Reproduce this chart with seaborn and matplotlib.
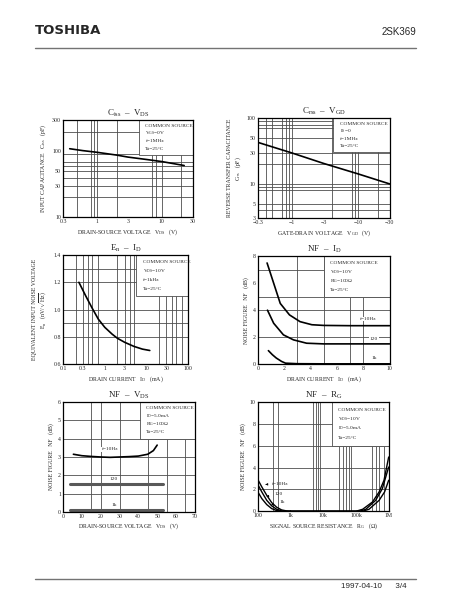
import numpy as np
import pandas as pd
import matplotlib
matplotlib.use('Agg')
import matplotlib.pyplot as plt
import seaborn as sns
from matplotlib.patches import Rectangle
from matplotlib.lines import Line2D

# ---- data ----
# Ciss - VDS
vds_ciss = [0.38, 0.6, 1.0, 2.0, 3.0, 6.0, 10.0, 22.0]
ciss = [110, 103, 97, 88, 82, 75, 70, 61]
# Crss - VGD (magnitudes, axis labelled negative)
vgd_abs = [0.3, 1.0, 3.0, 10.0, 30.0]
crss = [43, 29.5, 20.5, 14.2, 10]
# En - ID
id_en = [0.24, 0.35, 0.5, 0.7, 1.0, 1.5, 2.0, 3.0, 5.0, 8.0, 12.0]
en = [1.20, 1.10, 1.01, 0.93, 0.87, 0.82, 0.79, 0.76, 0.73, 0.71, 0.70]
# NF - ID
id_nf = [0.7, 1.0, 1.2, 1.7, 2.4, 3.2, 4.1, 5.0, 7.0, 10.0]
nf_id_10 = [7.5, 6.6, 6.0, 4.5, 3.65, 3.15, 2.92, 2.87, 2.85, 2.85]
id_nf_120 = [0.73, 1.2, 1.94, 2.7, 3.7, 5.0, 7.0, 10.0]
nf_id_120 = [4.0, 3.03, 2.17, 1.8, 1.55, 1.5, 1.5, 1.5]
id_nf_1k = [0.8, 1.1, 1.4, 1.8, 2.1, 3.0, 5.0, 10.0]
nf_id_1k = [1.0, 0.7, 0.45, 0.2, 0.07, 0.03, 0.02, 0.02]
# NF - VDS
vds_nf = [5.5, 10, 15, 20, 25, 30, 35, 40, 45, 48, 50]
nf_vds_10 = [3.15, 3.07, 3.03, 3.0, 2.98, 3.0, 3.02, 3.05, 3.15, 3.35, 3.65]
vds_flat = [3.5, 53]
nf_vds_120 = [1.5, 1.5]
nf_vds_1k = [0.1, 0.1]
# NF - RG
rg_low = [100, 132, 187, 265, 376, 533, 756, 1000]
nf_rg_10_low = [2.9, 2.23, 1.46, 0.79, 0.37, 0.12, 0.03, 0.0]
nf_rg_120_low = [2.44, 1.77, 1.0, 0.49, 0.18, 0.03, 0.0, 0.0]
nf_rg_1k_low = [1.77, 1.16, 0.61, 0.24, 0.06, 0.0, 0.0, 0.0]
rg_a = [1000, 100000, 160000, 320000, 510000, 720000, 1000000]
nf_rg_a = [0.0, 0.0, 0.18, 0.85, 1.77, 2.84, 4.97]
rg_b = [1000, 130000, 200000, 400000, 640000, 1000000]
nf_rg_b = [0.0, 0.0, 0.18, 1.0, 2.07, 4.05]
rg_c = [1000, 160000, 250000, 510000, 750000, 1000000]
nf_rg_c = [0.0, 0.0, 0.18, 1.0, 1.77, 2.84]

# ---- style ----
sns.set_style('white')
plt.rcParams['font.family'] = ['Liberation Serif', 'DejaVu Serif']
plt.rcParams['mathtext.fontset'] = 'custom'
plt.rcParams['mathtext.rm'] = 'Liberation Serif'
plt.rcParams['mathtext.it'] = 'Liberation Serif'
plt.rcParams['axes.linewidth'] = 0.9
plt.rcParams['axes.edgecolor'] = 'black'

TS = 4.2   # small text
BS = 3.9   # condition box text
GC = '0.3'
LW = 1.2

fig = plt.figure(figsize=(4.74, 6.13), dpi=100)


def grid_lines(ax, xs, ys):
    for v in xs:
        ax.axvline(v, color=GC, lw=0.6, zorder=1)
    for v in ys:
        ax.axhline(v, color=GC, lw=0.6, zorder=1)


def cond_box(ax, rect, lines):
    ax.add_patch(Rectangle((rect[0], rect[1]), rect[2], rect[3], transform=ax.transAxes,
                           facecolor='white', edgecolor=GC, lw=0.6, zorder=2))
    step = rect[3] / (len(lines) + 0.6)
    for i, t in enumerate(lines):
        ax.text(rect[0] + 0.05, rect[1] + rect[3] - step * (i + 0.8), t,
                transform=ax.transAxes, fontsize=BS, va='center', ha='left', zorder=3)


def finish(ax, title, xlabel, ylabel):
    ax.set_title(title, fontsize=6.5, pad=3)
    ax.set_xlabel(xlabel, fontsize=TS, labelpad=2)
    ax.set_ylabel(ylabel, fontsize=TS, labelpad=3)
    ax.tick_params(which='both', length=0, labelsize=TS, pad=1.5)
    for s in ax.spines.values():
        s.set_zorder(5)


# 1. Ciss - VDS
ax1 = fig.add_axes([0.133, 0.646, 0.274, 0.158])
ax1.set_xscale('log'); ax1.set_yscale('log')
ax1.set_xlim(0.3, 30); ax1.set_ylim(10, 300)
grid_lines(ax1, [0.5, 0.8, 0.9, 1, 2, 7, 8, 10, 20], [20, 30, 40, 50, 60, 70, 90, 200])
cond_box(ax1, [0.584, 0.645, 0.416, 0.355],
         ['COMMON SOURCE', r'V$_{GS}$=0V', 'f=1MHz', 'Ta=25°C'])
sns.lineplot(x=vds_ciss, y=ciss, ax=ax1, color='black', lw=LW, zorder=4)
ax1.set_xticks([0.3, 1, 3, 10, 30], ['0.3', '1', '3', '10', '30'])
ax1.set_yticks([10, 30, 50, 100, 300], ['10', '30', '50', '100', '300'])
ax1.minorticks_off()
finish(ax1, r'C$_{iss}$  –  V$_{DS}$', r'DRAIN-SOURCE VOLTAGE   V$_{DS}$   (V)',
       r'INPUT CAPACITANCE   C$_{iss}$   (pF)')

# 2. Crss - VGD
ax2 = fig.add_axes([0.544, 0.644, 0.278, 0.163])
ax2.set_xscale('log'); ax2.set_yscale('log')
ax2.set_xlim(0.3, 30); ax2.set_ylim(3, 100)
grid_lines(ax2, [0.4, 0.5, 0.7, 0.8, 0.9, 1, 4, 8, 9, 10, 20],
           [4, 5, 8, 9, 10, 20, 30, 50, 70, 80, 90])
cond_box(ax2, [0.572, 0.659, 0.428, 0.341],
         ['COMMON SOURCE', r'I$_{S}$=0', 'f=1MHz', 'Ta=25°C'])
sns.lineplot(x=vgd_abs, y=crss, ax=ax2, color='black', lw=LW, zorder=4)
ax2.set_xticks([0.3, 1, 3, 10, 30], ['−0.3', '−1', '−3', '−10', '−30'])
ax2.set_yticks([3, 5, 10, 30, 50, 100], ['3', '5', '10', '30', '50', '100'])
ax2.minorticks_off()
finish(ax2, r'C$_{rss}$  –  V$_{GD}$', r'GATE-DRAIN VOLTAGE   V$_{GD}$   (V)',
       'REVERSE TRANSFER CAPACITANCE\n' + r'C$_{rss}$   (pF)')

# 3. En - ID
ax3 = fig.add_axes([0.133, 0.406, 0.264, 0.178])
ax3.set_xscale('log')
ax3.set_xlim(0.1, 100); ax3.set_ylim(0.6, 1.4)
grid_lines(ax3, [0.2, 0.3, 0.4, 0.5, 0.7, 2, 3, 4, 5, 20, 30, 40, 50, 70],
           [0.8, 0.9, 1.0, 1.2, 1.3])
cond_box(ax3, [0.587, 0.624, 0.413, 0.376],
         ['COMMON SOURCE', r'V$_{DS}$=10V', 'f=1kHz', 'Ta=25°C'])
sns.lineplot(x=id_en, y=en, ax=ax3, color='black', lw=LW, zorder=4)
ax3.set_xticks([0.1, 0.3, 1, 3, 10, 30, 100], ['0.1', '0.3', '1', '3', '10', '30', '100'])
ax3.set_yticks([0.6, 0.8, 1.0, 1.2, 1.4], ['0.6', '0.8', '1.0', '1.2', '1.4'])
ax3.minorticks_off()
finish(ax3, r'E$_{n}$  –  I$_{D}$', r'DRAIN CURRENT   I$_{D}$   (mA)',
       'EQUIVALENT INPUT NOISE VOLTAGE\n' + r'E$_{n}$   (nV/$\sqrt{\rm Hz}$)')

# 4. NF - ID
ax4 = fig.add_axes([0.544, 0.406, 0.278, 0.176])
ax4.set_xlim(0, 10); ax4.set_ylim(0, 8)
grid_lines(ax4, [3, 5, 7, 8], [2, 4, 5, 7])
cond_box(ax4, [0.5, 0.625, 0.5, 0.375],
         ['COMMON SOURCE', r'V$_{DS}$=10V', r'R$_{G}$=100Ω', 'Ta=25°C'])
sns.lineplot(x=id_nf, y=nf_id_10, ax=ax4, color='black', lw=LW, zorder=4)
sns.lineplot(x=id_nf_120, y=nf_id_120, ax=ax4, color='black', lw=LW, zorder=4)
sns.lineplot(x=id_nf_1k, y=nf_id_1k, ax=ax4, color='black', lw=LW, zorder=4)
ax4.text(7.7, 3.35, 'f=10Hz', fontsize=BS, va='center', zorder=4,
         bbox=dict(facecolor='white', edgecolor='none', pad=0.3))
ax4.text(8.5, 1.85, '120', fontsize=BS, va='center', zorder=4,
         bbox=dict(facecolor='white', edgecolor='none', pad=0.3))
ax4.text(8.6, 0.45, '1k', fontsize=BS, va='center', zorder=4)
ax4.set_xticks([0, 2, 4, 6, 8, 10])
ax4.set_yticks([0, 2, 4, 6, 8])
finish(ax4, r'NF  –  I$_{D}$', r'DRAIN CURRENT   I$_{D}$   (mA)',
       r'NOISE FIGURE   NF   (dB)')

# 5. NF - VDS
ax5 = fig.add_axes([0.133, 0.165, 0.278, 0.179])
ax5.set_xlim(0, 70); ax5.set_ylim(0, 6)
grid_lines(ax5, [15, 20, 30, 45, 55, 65], [1, 2, 3, 4, 5])
cond_box(ax5, [0.582, 0.667, 0.418, 0.333],
         ['COMMON SOURCE', r'I$_{D}$=5.0mA', r'R$_{G}$=100Ω', 'Ta=25°C'])
sns.lineplot(x=vds_nf, y=nf_vds_10, ax=ax5, color='black', lw=LW, zorder=4)
sns.lineplot(x=vds_flat, y=nf_vds_120, ax=ax5, color='0.35', lw=2.2, zorder=4)
sns.lineplot(x=vds_flat, y=nf_vds_1k, ax=ax5, color='0.35', lw=2.2, zorder=4)
ax5.text(25, 3.42, 'f=10Hz', fontsize=BS, ha='center', va='center', zorder=4,
         bbox=dict(facecolor='white', edgecolor='none', pad=0.3))
ax5.text(27, 1.78, '120', fontsize=BS, ha='center', va='center', zorder=4,
         bbox=dict(facecolor='white', edgecolor='none', pad=0.3))
ax5.text(27, 0.35, '1k', fontsize=BS, ha='center', va='center', zorder=4,
         bbox=dict(facecolor='white', edgecolor='none', pad=0.3))
ax5.set_xticks([0, 10, 20, 30, 40, 50, 60, 70])
ax5.set_yticks([0, 1, 2, 3, 4, 5, 6])
finish(ax5, r'NF  –  V$_{DS}$', r'DRAIN-SOURCE VOLTAGE   V$_{DS}$   (V)',
       r'NOISE FIGURE   NF   (dB)')

# 6. NF - RG
ax6 = fig.add_axes([0.544, 0.166, 0.276, 0.178])
ax6.set_xscale('log')
ax6.set_xlim(100, 1e6); ax6.set_ylim(0, 10)
grid_lines(ax6, [300, 400, 5000, 6000, 7000, 8000, 30000, 40000, 50000, 60000, 70000,
                 300000, 400000, 500000, 700000], [2, 4, 6, 8])
cond_box(ax6, [0.563, 0.6, 0.437, 0.4],
         ['COMMON SOURCE', r'V$_{DS}$=10V', r'I$_{D}$=5.0mA', 'Ta=25°C'])
for xs, ys in [(rg_low, nf_rg_10_low), (rg_low, nf_rg_120_low), (rg_low, nf_rg_1k_low),
               (rg_a, nf_rg_a), (rg_b, nf_rg_b), (rg_c, nf_rg_c)]:
    sns.lineplot(x=xs, y=ys, ax=ax6, color='black', lw=1.0, zorder=4)
arr = dict(arrowstyle='-|>', lw=0.5, color='black', mutation_scale=3)
ax6.annotate('f=10Hz', xy=(140, 2.45), xytext=(265, 2.5), fontsize=BS, va='center',
             arrowprops=arr, zorder=4)
ax6.annotate('120', xy=(150, 1.3), xytext=(320, 1.55), fontsize=BS, va='center',
             arrowprops=arr, zorder=4)
ax6.annotate('1k', xy=(210, 0.5), xytext=(450, 0.85), fontsize=BS, va='center',
             arrowprops=arr, zorder=4)
ax6.set_xticks([100, 1000, 10000, 100000, 1e6], ['100', '1k', '10k', '100k', '1M'])
ax6.set_yticks([0, 2, 4, 6, 8, 10])
ax6.minorticks_off()
finish(ax6, r'NF  –  R$_{G}$', r'SIGNAL SOURCE RESISTANCE   R$_{G}$   (Ω)',
       r'NOISE FIGURE   NF   (dB)')

# ---- page header / footer ----
fig.text(35 / 474, 1 - 31 / 613, 'TOSHIBA', fontsize=9.5, fontweight='heavy',
         family=['DejaVu Sans', 'Liberation Sans'], va='center', ha='left')
fig.text(416 / 474, 1 - 32 / 613, '2SK369', fontsize=7,
         family=['Liberation Sans', 'DejaVu Sans'], va='center', ha='right')
fig.add_artist(Line2D([35 / 474, 416 / 474], [1 - 48 / 613, 1 - 48 / 613],
                      color='0.45', lw=1.0))
fig.add_artist(Line2D([35 / 474, 416 / 474], [1 - 579 / 613, 1 - 579 / 613],
                      color='0.45', lw=1.0))
fig.text(407 / 474, 1 - 586 / 613, '1997-04-10      3/4', fontsize=5.8,
         family=['Liberation Sans', 'DejaVu Sans'], va='center', ha='right')

fig.savefig('out.png', dpi=100)
